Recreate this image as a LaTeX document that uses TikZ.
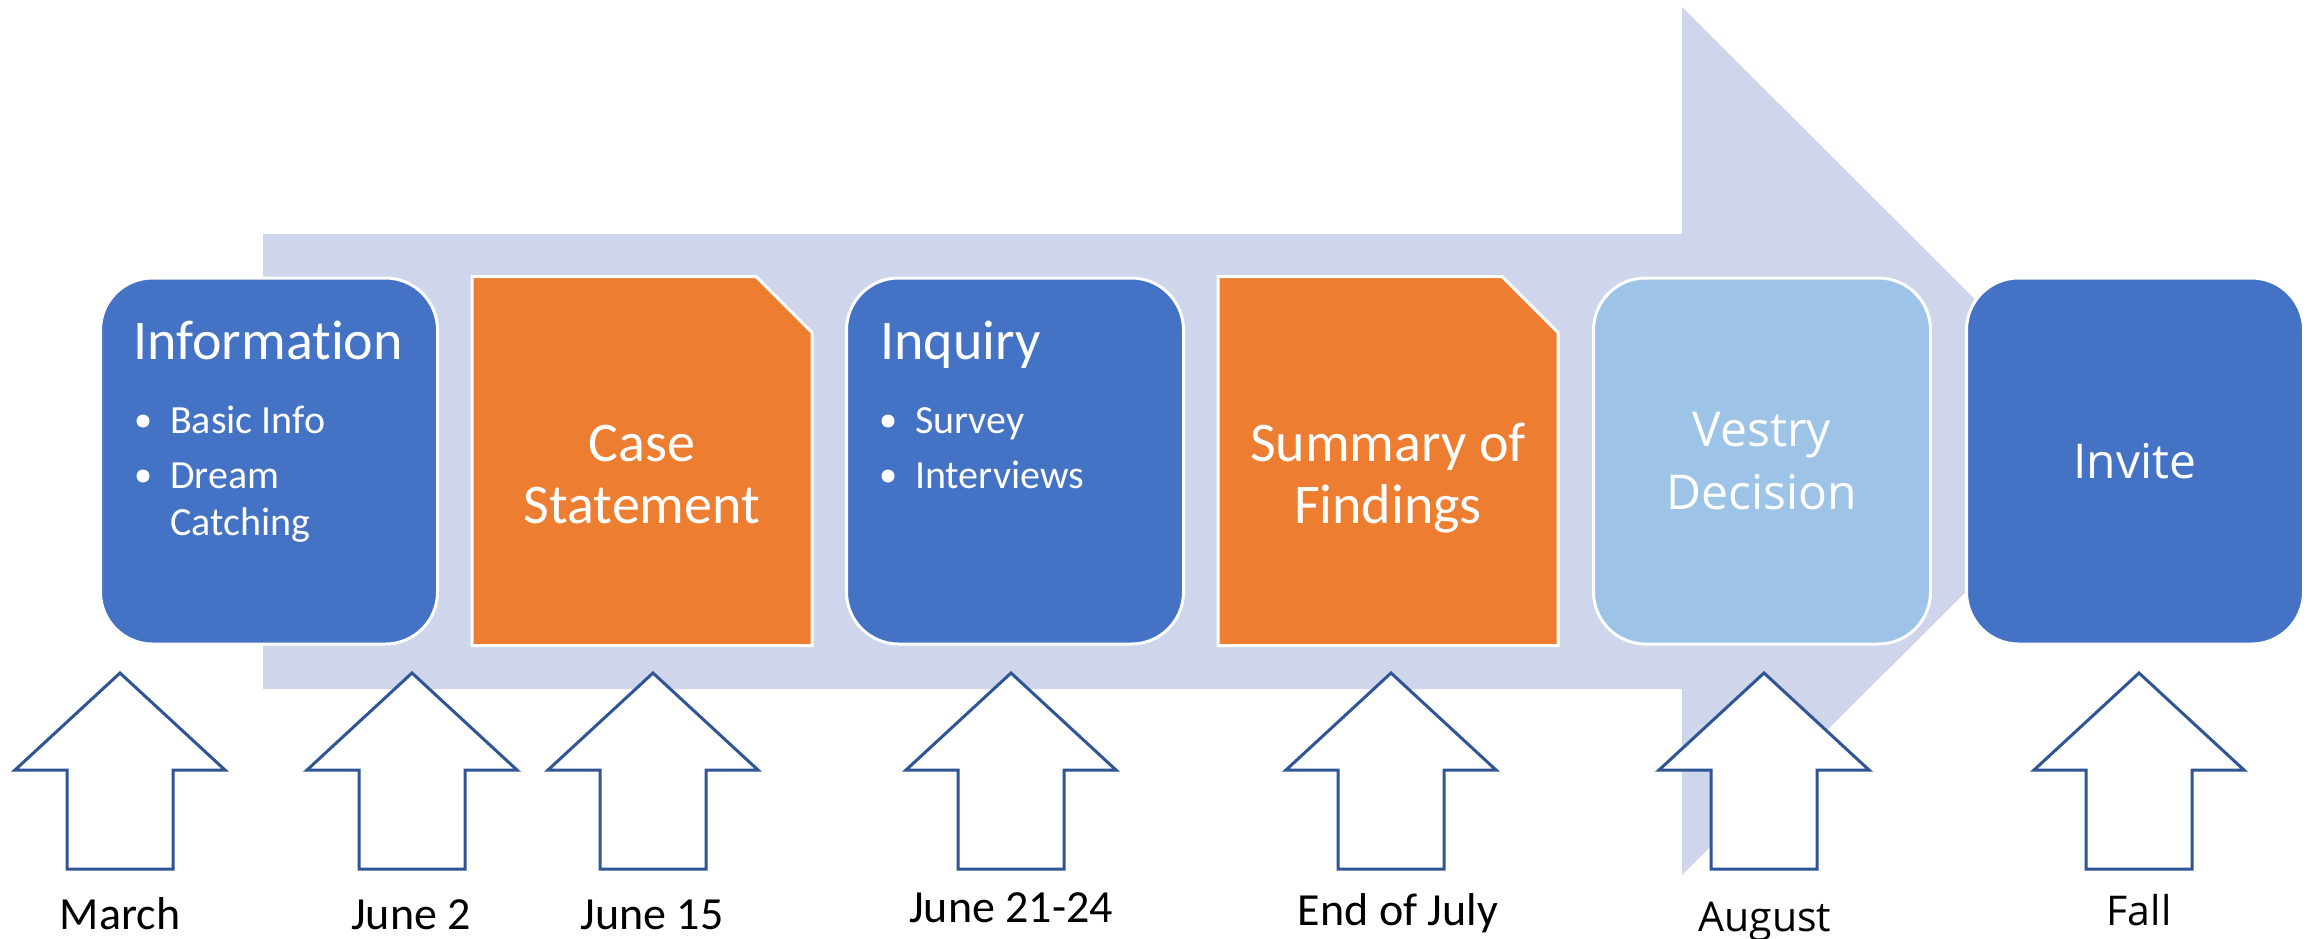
\documentclass[tikz,border=0pt]{standalone}
\usepackage{fontspec}
\setmainfont{Carlito}[Ligatures={NoCommon,NoDiscretionary,NoRare}]
\newfontfamily\segoe{Open Sans}
\usetikzlibrary{calc}
\definecolor{bandc}{HTML}{CFD5EA}
\definecolor{boxblue}{HTML}{4472C4}
\definecolor{boxorange}{HTML}{ED7D31}
\definecolor{boxlight}{HTML}{9DC3E6}
\definecolor{arrowline}{HTML}{2F5597}
\begin{document}
\begin{tikzpicture}[x=1pt,y=-1pt,
  stagebox/.style={draw=white, line width=3pt, minimum width=337pt, minimum height=366pt, inner sep=0pt},
  roundbox/.style={stagebox, rounded corners=52pt},
  plainbox/.style={stagebox, draw=none},
  title/.style={text=white, font=\fontsize{56}{62}\selectfont, inner sep=0pt},
  segtitle/.style={text=white, font=\segoe\fontsize{48}{59}\selectfont, inner sep=0pt},
  bullettext/.style={text=white, font=\fontsize{40}{48}\selectfont, inner sep=0pt, anchor=base west},
  bulletdot/.style={circle, fill=white, inner sep=0pt, minimum size=13pt},
  datelabel/.style={font=\fontsize{46}{52}\selectfont, inner sep=0pt, anchor=base},
  segdate/.style={font=\segoe\fontsize{41}{48}\selectfont, inner sep=0pt, anchor=base},
  uparrow/.pic={\draw[arrowline, line width=3pt, fill=white, line join=miter]
      (0,0) -- (105,97) -- (53,97) -- (53,196) -- (-53,196) -- (-53,97) -- (-105,97) -- cycle;}
  ]
\useasboundingbox (0,0) rectangle (2318,939);

% big background arrow
\fill[bandc] (263,234) -- (1682,234) -- (1682,7) -- (2117,441) -- (1682,875) -- (1682,689) -- (263,689) -- cycle;

% stage boxes
\node[roundbox, fill=boxblue] (info) at (269,461) {};
\node[plainbox] (case) at (642,461) {};
\filldraw[fill=boxorange, draw=white, line width=3pt]
  (case.north west) -- ($(case.north east)+(-56,0)$) -- ($(case.north east)+(0,56)$)
  -- (case.south east) -- (case.south west) -- cycle;
\node[roundbox, fill=boxblue] (inq) at (1015,461) {};
\node[plainbox] (summ) at (1388,461) {};
\filldraw[fill=boxorange, draw=white, line width=3pt]
  (summ.north west) -- ($(summ.north east)+(-56,0)$) -- ($(summ.north east)+(0,56)$)
  -- (summ.south east) -- (summ.south west) -- cycle;
\node[roundbox, fill=boxlight] (vestry) at (1762,461) {};
\node[roundbox, fill=boxblue] (invite) at (2135,461) {};

% texts in boxes
\node[title, anchor=base west] (infot) at (133,359) {Information};
\node[bulletdot] (d1) at (143,421) {};
\node[bullettext] (b1) at (170,433) {Basic Info};
\node[bulletdot] (d2) at (143,476) {};
\node[bullettext] (b2) at (170,488) {Dream};
\node[bullettext] (b3) at (170,535) {Catching};

\node[title, anchor=base] (caset1) at (642,461) {Case};
\node[title, anchor=base] (caset2) at (642,523) {Statement};

\node[title, anchor=base west] (inqt) at (880,359) {Inquiry};
\node[bulletdot] (d3) at (888,421) {};
\node[bullettext] (b4) at (915,433) {Survey};
\node[bulletdot] (d4) at (888,476) {};
\node[bullettext] (b5) at (915,488) {Interviews};

\node[title, anchor=base] (summt1) at (1388,461) {Summary of};
\node[title, anchor=base] (summt2) at (1388,523) {Findings};

\node[segtitle, anchor=base] (vest1) at (1762,446) {Vestry};
\node[segtitle, anchor=base] (vest2) at (1762,509) {Decision};

\node[segtitle, anchor=base] (invt) at (2135,478) {Invite};

% up arrows
\pic at (120,673) {uparrow};
\pic at (412,673) {uparrow};
\pic at (653,673) {uparrow};
\pic at (1011,673) {uparrow};
\pic at (1391,673) {uparrow};
\pic at (1764,673) {uparrow};
\pic at (2139,673) {uparrow};

% date labels
\node[datelabel] (l1) at (120,929) {March};
\node[datelabel] (l2) at (411,929) {June 2};
\node[datelabel] (l3) at (652,929) {June 15};
\node[datelabel] (l4) at (1011,922) {June 21-24};
\node[datelabel] (l5) at (1398,925) {End of July};
\node[segdate] (l6) at (1765,931) {August};
\node[segdate] (l7) at (2139,925) {Fall};
\end{tikzpicture}
\end{document}
